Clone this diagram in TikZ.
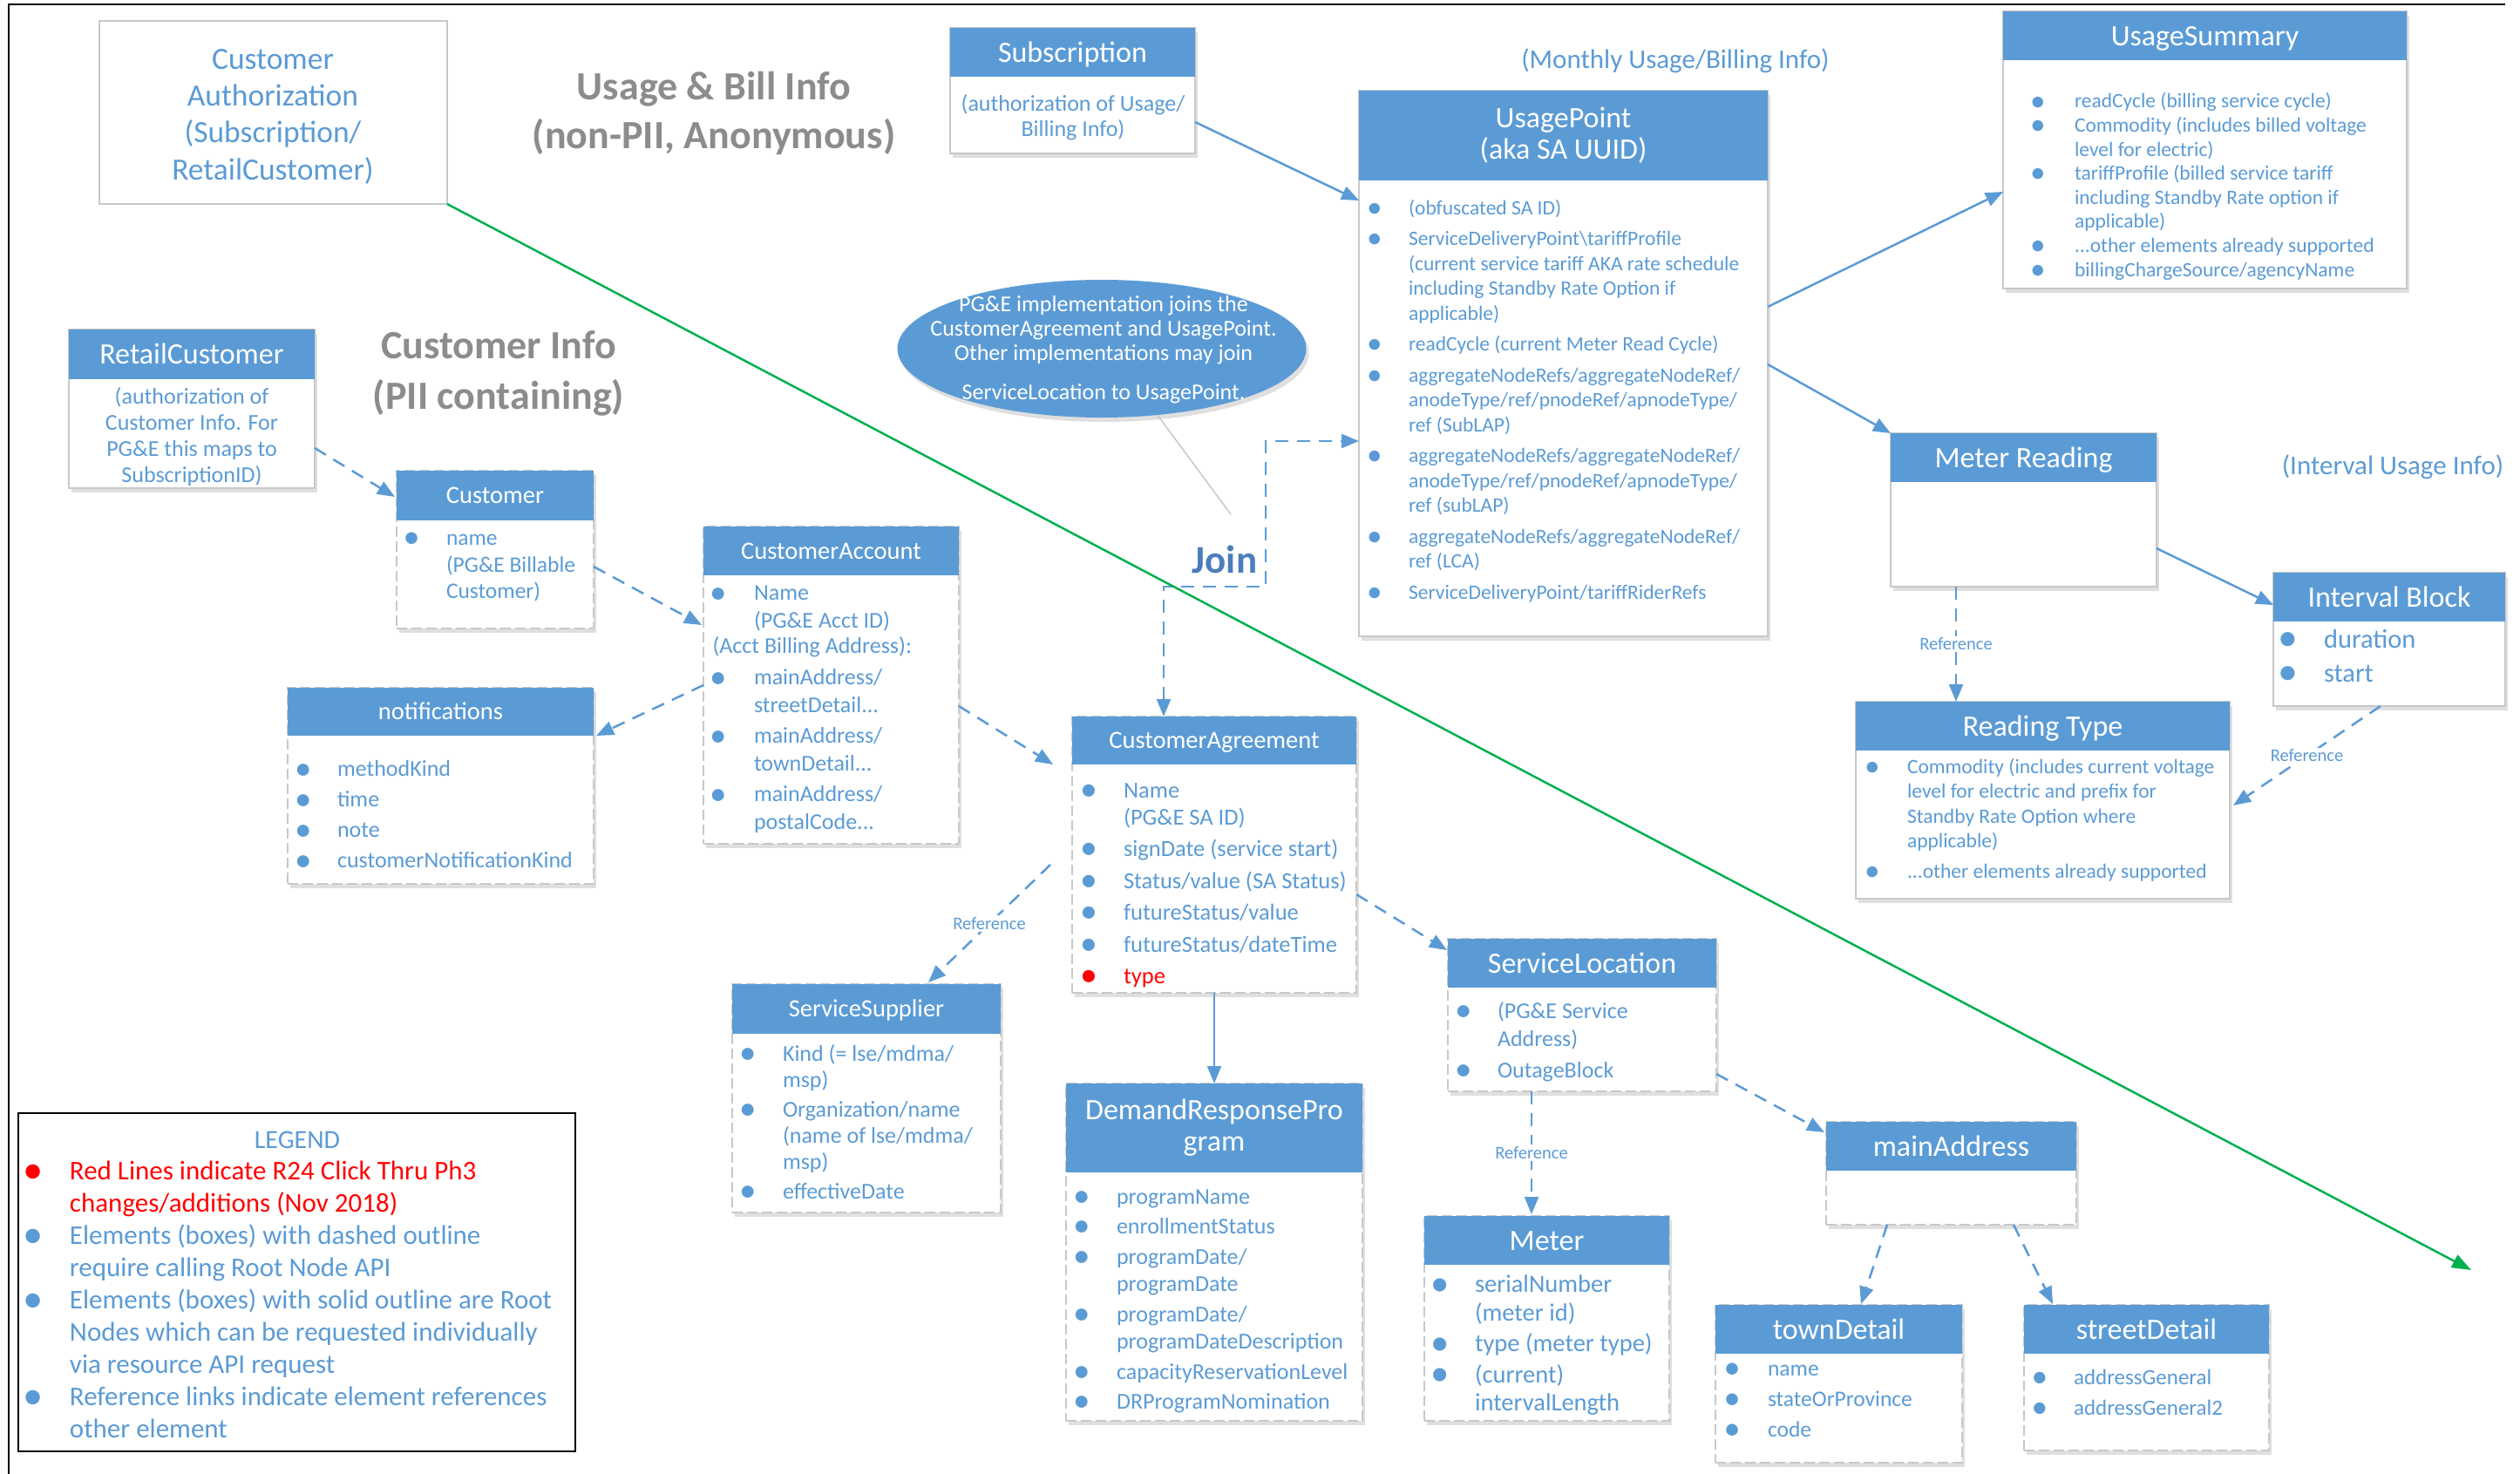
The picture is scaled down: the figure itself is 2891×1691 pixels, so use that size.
\documentclass[tikz,border=0pt]{standalone}
\usepackage{fontspec}
\setmainfont{Carlito}
\usepackage{array}
\usetikzlibrary{arrows.meta,shapes.geometric,shadows,calc}
\definecolor{hb}{HTML}{5B9BD5}
\definecolor{tb}{HTML}{5B9BD5}
\definecolor{ttl}{HTML}{8C8C8C}
\definecolor{jn}{HTML}{4A7EBB}
\definecolor{gr}{HTML}{00B050}
\definecolor{bd}{HTML}{C8C8C8}
\newcommand{\bl}{\hspace*{-0.12em}\raisebox{-0.13em}{\scalebox{1.5}{\textbullet}}}
\newcommand{\fs}[2]{\fontsize{#1}{#2}\selectfont}
\begin{document}
\begin{tikzpicture}[x=1pt,y=-1pt,
  box/.style={draw=bd, line width=1.5pt, fill=white, inner sep=0pt, outer sep=0pt, anchor=north west,
    drop shadow={shadow xshift=3pt, shadow yshift=-5pt, opacity=0.25}},
  dbox/.style={box, dash pattern=on 12pt off 5pt},
  hdr/.style={fill=hb, inner sep=0pt, outer sep=0pt, anchor=north west},
  ttlA/.style={text=white, font=\fs{34}{40}, text height=22.4pt, text depth=0pt},
  ttlB/.style={text=white, font=\fs{28.5}{34}, text height=18.8pt, text depth=0pt},
  txt/.style={text=tb, inner sep=0pt, outer sep=0pt},
  conn/.style={draw=hb, line width=2.5pt, -{Triangle[length=20pt,width=16pt]}},
  dconn/.style={conn, dash pattern=on 15pt off 10pt},
  reflbl/.style={text=tb, font=\fs{20.5}{24}, fill=white, inner sep=2pt},
]
\useasboundingbox (0,0) rectangle (2891,1691);
\fill[white] (0,0) rectangle (2891,1691);
% frame
\draw[line width=2.5pt] (2874,5) -- (10,5) -- (10,1691);

% Customer Authorization
\node[draw=bd, line width=2pt, fill=white, minimum width=399pt, minimum height=210pt, anchor=north west, inner sep=0pt, outer sep=0pt] (cauth) at (114,24) {};
\node[txt, anchor=base, font=\fs{35.5}{42.3}] (cauth-t) at (313,79.4) {\begin{tabular}[t]{@{}c@{}}Customer\\Authorization\\(Subscription/\\RetailCustomer)\end{tabular}};

% section titles
\node[anchor=base, text=ttl, font=\fs{46}{55}\bfseries, inner sep=0pt] (ubi) at (819,115) {\begin{tabular}[t]{@{}c@{}}Usage \& Bill Info\\(non-PII, Anonymous)\end{tabular}};
\node[anchor=base, text=ttl, font=\fs{46}{58}\bfseries, inner sep=0pt] (cinfo) at (572,411) {\begin{tabular}[t]{@{}c@{}}Customer Info\\(PII containing)\end{tabular}};
\node[txt, anchor=base, font=\fs{31}{36}] (monthly) at (1922,79) {(Monthly Usage/Billing Info)};
\node[txt, anchor=base, font=\fs{31}{36}] (intinfo) at (2745,544) {(Interval Usage Info)};

% RetailCustomer
\node[box, minimum width=282pt, minimum height=182pt] (rc) at (79,378) {};
\node[hdr, ttlA, minimum width=282pt, minimum height=57pt] (rc-h) at (rc.north west) {RetailCustomer};
\node[txt, anchor=base, font=\fs{26}{30}] (rc-b) at (220,463) {\begin{tabular}[t]{@{}c@{}}(authorization of\\Customer Info. For\\PG\&E this maps to\\SubscriptionID)\end{tabular}};

% Customer
\node[dbox, minimum width=226pt, minimum height=181pt] (cu) at (455,540) {};
\node[hdr, ttlB, minimum width=226pt, minimum height=57pt] (cu-h) at (cu.north west) {Customer};
\node[txt, anchor=base west, font=\fs{25.5}{30.5}] (cu-b) at (465.6,625.6) {\begin{tabular}[t]{@{}p{46.4pt}@{}l@{}}\bl & name\\ & (PG\&E Billable\\ & Customer)\end{tabular}};

% CustomerAccount
\node[dbox, minimum width=293pt, minimum height=364pt] (ca) at (807,604) {};
\node[hdr, ttlB, minimum width=293pt, minimum height=56pt] (ca-h) at (ca.north west) {CustomerAccount};
\node[txt, anchor=base west, font=\fs{26}{32}] (ca-b) at (817.5,688.8) {\begin{tabular}[t]{@{}p{47.5pt}@{}l@{}}\bl & Name\\ & (PG\&E Acct ID)\\[-3pt]
\multicolumn{2}{@{}l@{}}{(Acct Billing Address):}\\[4pt]
\bl & mainAddress/\\ & streetDetail...\\[3pt]
\bl & mainAddress/\\ & townDetail...\\[3pt]
\bl & mainAddress/\\ & postalCode...\end{tabular}};

% notifications
\node[dbox, minimum width=351pt, minimum height=225pt] (nt) at (330,789) {};
\node[hdr, ttlB, minimum width=351pt, minimum height=55pt] (nt-h) at (nt.north west) {notifications};
\node[txt, anchor=base west, font=\fs{26}{35}] (nt-b) at (341.5,890.8) {\begin{tabular}[t]{@{}p{45.5pt}@{}l@{}}\bl & methodKind\\ \bl & time\\ \bl & note\\ \bl & customerNotificationKind\end{tabular}};

% Subscription
\node[box, minimum width=281pt, minimum height=144pt] (sub) at (1090,32) {};
\node[hdr, ttlA, minimum width=281pt, minimum height=56pt] (sub-h) at (sub.north west) {Subscription};
\node[txt, anchor=base, font=\fs{26}{29}] (sub-b) at (1231,128) {\begin{tabular}[t]{@{}c@{}}(authorization of Usage/\\Billing Info)\end{tabular}};

% UsagePoint
\node[box, minimum width=469pt, minimum height=626pt] (up) at (1559,104) {};
\node[hdr, minimum width=469pt, minimum height=103pt, text=white, font=\fs{34}{36}, align=center] (up-h) at (up.north west) {UsagePoint\\(aka SA UUID)};
\node[txt, anchor=base west, font=\fs{23.5}{28.5}] (up-b) at (1571,246) {\begin{tabular}[t]{@{}p{45pt}@{}l@{}}\bl & (obfuscated SA ID)\\[7pt]
\bl & ServiceDeliveryPoint\textbackslash tariffProfile\\
 & (current service tariff AKA rate schedule\\
 & including Standby Rate Option if\\
 & applicable)\\[7pt]
\bl & readCycle (current Meter Read Cycle)\\[7pt]
\bl & aggregateNodeRefs/aggregateNodeRef/\\ & anodeType/ref/pnodeRef/apnodeType/\\ & ref (SubLAP)\\[7pt]
\bl & aggregateNodeRefs/aggregateNodeRef/\\ & anodeType/ref/pnodeRef/apnodeType/\\ & ref (subLAP)\\[7pt]
\bl & aggregateNodeRefs/aggregateNodeRef/\\ & ref (LCA)\\[7pt]
\bl & ServiceDeliveryPoint/tariffRiderRefs\end{tabular}};

% UsageSummary
\node[box, minimum width=463pt, minimum height=318pt] (us) at (2298,13) {};
\node[hdr, ttlA, minimum width=463pt, minimum height=56pt] (us-h) at (us.north west) {UsageSummary};
\node[txt, anchor=base west, font=\fs{23.5}{27.6}] (us-b) at (2332,124) {\begin{tabular}[t]{@{}p{48pt}@{}l@{}}\bl & readCycle (billing service cycle)\\
\bl & Commodity (includes billed voltage\\ & level for electric)\\
\bl & tariffProfile (billed service tariff\\ & including Standby Rate option if\\ & applicable)\\
\bl & ...other elements already supported\\
\bl & billingChargeSource/agencyName\end{tabular}};

% Callout ellipse
\node[ellipse, fill=hb, minimum width=469pt, minimum height=158pt, inner sep=0pt,
  drop shadow={shadow xshift=3pt, shadow yshift=-5pt, opacity=0.25}] (callout) at (1264,400) {};
\node[anchor=base, text=white, font=\fs{26}{28}, inner sep=0pt] (callout-t) at (1266,357) {\begin{tabular}[t]{@{}c@{}}PG\&E implementation joins the\\CustomerAgreement and UsagePoint.\\Other implementations may join\\[17pt]ServiceLocation to UsagePoint.\end{tabular}};
\coordinate (callout-tip) at (1412,590);
\draw[draw=bd, line width=1.5pt] (callout.-50) -- (callout-tip);
\node[anchor=base, text=jn, font=\fs{45}{50}\bfseries, inner sep=0pt] (join) at (1405,657) {Join};

% CustomerAgreement
\node[dbox, minimum width=326pt, minimum height=317pt] (cag) at (1230,822) {};
\node[hdr, ttlB, minimum width=326pt, minimum height=55pt] (cag-h) at (cag.north west) {CustomerAgreement};
\node[txt, anchor=base west, font=\fs{26.5}{31}] (cag-b) at (1242.4,915) {\begin{tabular}[t]{@{}p{46.6pt}@{}l@{}}\bl & Name\\ & (PG\&E SA ID)\\[5.5pt]
\bl & signDate (service start)\\[5.5pt]
\bl & Status/value (SA Status)\\[5.5pt]
\bl & futureStatus/value\\[5.5pt]
\bl & futureStatus/dateTime\\[5.5pt]
\textcolor{red}{\bl} & \textcolor{red}{type}\end{tabular}};

% ServiceSupplier
\node[dbox, minimum width=308pt, minimum height=262pt] (ss) at (840,1129) {};
\node[hdr, ttlB, minimum width=308pt, minimum height=57pt] (ss-h) at (ss.north west) {ServiceSupplier};
\node[txt, anchor=base west, font=\fs{26}{30}] (ss-b) at (851.5,1217) {\begin{tabular}[t]{@{}p{46.5pt}@{}l@{}}\bl & Kind (= lse/mdma/\\ & msp)\\[4pt]
\bl & Organization/name\\ & (name of lse/mdma/\\ & msp)\\[4pt]
\bl & effectiveDate\end{tabular}};

% DemandResponseProgram
\node[dbox, minimum width=340pt, minimum height=387pt] (dr) at (1223,1243) {};
\node[hdr, minimum width=340pt, minimum height=102pt, text=white, font=\fs{34}{36}, align=center] (dr-h) at (dr.north west) {DemandResponsePro\\gram};
\node[txt, anchor=base west, font=\fs{26}{31.5}] (dr-b) at (1234.5,1381) {\begin{tabular}[t]{@{}p{46.5pt}@{}l@{}}\bl & programName\\[3pt]
\bl & enrollmentStatus\\[3pt]
\bl & programDate/\\ & programDate\\[3pt]
\bl & programDate/\\ & programDateDescription\\[3pt]
\bl & capacityReservationLevel\\[3pt]
\bl & DRProgramNomination\end{tabular}};

% ServiceLocation
\node[dbox, minimum width=308pt, minimum height=175pt] (sl) at (1661,1077) {};
\node[hdr, ttlA, minimum width=308pt, minimum height=56pt] (sl-h) at (sl.north west) {ServiceLocation};
\node[txt, anchor=base west, font=\fs{26}{32}] (sl-b) at (1672.5,1168) {\begin{tabular}[t]{@{}p{45.5pt}@{}l@{}}\bl & (PG\&E Service\\ & Address)\\[4pt]
\bl & OutageBlock\end{tabular}};

% Meter
\node[dbox, minimum width=281pt, minimum height=235pt] (me) at (1634,1395) {};
\node[hdr, ttlA, minimum width=281pt, minimum height=56pt] (me-h) at (me.north west) {Meter};
\node[txt, anchor=base west, font=\fs{28.5}{32.5}] (me-b) at (1645,1482.5) {\begin{tabular}[t]{@{}p{47pt}@{}l@{}}\bl & serialNumber\\ & (meter id)\\[3pt]
\bl & type (meter type)\\[3pt]
\bl & (current)\\ & intervalLength\end{tabular}};

% mainAddress
\node[dbox, minimum width=287pt, minimum height=118pt] (ma) at (2095,1287) {};
\node[hdr, ttlA, minimum width=287pt, minimum height=56pt] (ma-h) at (ma.north west) {mainAddress};

% townDetail
\node[dbox, minimum width=283pt, minimum height=181pt] (td) at (1968,1497) {};
\node[hdr, ttlA, minimum width=283pt, minimum height=56pt] (td-h) at (td.north west) {townDetail};
\node[txt, anchor=base west, font=\fs{25.5}{35}] (td-b) at (1980.6,1578.6) {\begin{tabular}[t]{@{}p{47.4pt}@{}l@{}}\bl & name\\ \bl & stateOrProvince\\ \bl & code\end{tabular}};

% streetDetail
\node[dbox, minimum width=281pt, minimum height=167pt] (sd) at (2322,1497) {};
\node[hdr, ttlA, minimum width=281pt, minimum height=56pt] (sd-h) at (sd.north west) {streetDetail};
\node[txt, anchor=base west, font=\fs{25}{35}] (sd-b) at (2333.7,1588.5) {\begin{tabular}[t]{@{}p{45.3pt}@{}l@{}}\bl & addressGeneral\\ \bl & addressGeneral2\end{tabular}};

% Meter Reading
\node[box, minimum width=305pt, minimum height=176pt] (mr) at (2169,497) {};
\node[hdr, ttlA, minimum width=305pt, minimum height=56pt] (mr-h) at (mr.north west) {Meter Reading};

% Interval Block
\node[box, minimum width=266pt, minimum height=153pt] (ib) at (2608,657) {};
\node[hdr, ttlA, minimum width=266pt, minimum height=56pt] (ib-h) at (ib.north west) {Interval Block};
\node[txt, anchor=base west, font=\fs{30.5}{39}] (ib-b) at (2617.4,743) {\begin{tabular}[t]{@{}p{48.6pt}@{}l@{}}\bl & duration\\ \bl & start\end{tabular}};

% Reading Type
\node[box, minimum width=429pt, minimum height=226pt] (rt) at (2129,805) {};
\node[hdr, ttlA, minimum width=429pt, minimum height=56pt] (rt-h) at (rt.north west) {Reading Type};
\node[txt, anchor=base west, font=\fs{23.5}{28.5}] (rt-b) at (2142,887) {\begin{tabular}[t]{@{}p{46pt}@{}l@{}}\bl & Commodity (includes current voltage\\ & level for electric and prefix for\\ & Standby Rate Option where\\ & applicable)\\[6pt]
\bl & ...other elements already supported\end{tabular}};

% Legend
\node[draw=black, line width=2.5pt, fill=white, minimum width=639pt, minimum height=388pt, anchor=north west, inner sep=0pt, outer sep=0pt] (lg) at (21,1277) {};
\node[txt, anchor=base, font=\fs{30}{36}] (lg-t) at (341,1317) {LEGEND};
\node[txt, anchor=base west, font=\fs{31}{37}] (lg-b) at (30.25,1353.3) {\begin{tabular}[t]{@{}p{49.75pt}@{}l@{}}\textcolor{red}{\bl} & \textcolor{red}{Red Lines indicate R24 Click Thru Ph3}\\
 & \textcolor{red}{changes/additions (Nov 2018)}\\
\bl & Elements (boxes) with dashed outline\\ & require calling Root Node API\\
\bl & Elements (boxes) with solid outline are Root\\ & Nodes which can be requested individually\\ & via resource API request\\
\bl & Reference links indicate element references\\ & other element\end{tabular}};

% connectors
\draw[dconn] ($(rc.north east)+(0,136)$) -- ($(cu.north west)+(-2,30)$);
\draw[dconn] ($(cu.north east)+(0,110)$) -- ($(ca.north west)+(-2,113)$);
\draw[dconn] ($(ca.north west)+(0,182)$) -- ($(nt.north east)+(3,55)$);
\draw[dconn] ($(ca.north east)+(0,206)$) -- ($(cag.north west)+(-22,55)$);
\coordinate (j1) at (1452,673);
\draw[dconn, {Triangle[length=20pt,width=16pt]}-{Triangle[length=20pt,width=16pt]}] ($(cag.north west)+(105,0)$) |- (j1) |- ($(up.north west)+(0,402)$);
\draw[conn] ($(sub.north east)+(0,108)$) -- ($(up.north west)+(0,126)$);
\draw[conn] ($(up.north east)+(0,248)$) -- ($(us.north west)+(0,207)$);
\draw[conn] ($(up.north east)+(0,314)$) -- (mr.north west);
\draw[conn] ($(mr.north east)+(0,132)$) -- ($(ib.north west)+(0,37)$);
\draw[dconn] ($(mr.south west)+(75,0)$) -- node[reflbl] (ref1) {Reference} ($(rt.north west)+(115,0)$);
\draw[dconn] ($(ib.south west)+(123,0)$) -- node[reflbl] (ref2) {Reference} ($(rt.north east)+(4,119)$);
\draw[dconn] ($(cag.north west)+(-25,170)$) -- node[reflbl] (ref3) {Reference} ($(ss.north west)+(225,-2)$);
\draw[conn] (cag.south) -- (dr.north);
\draw[dconn] ($(cag.north east)+(0,204)$) -- ($(sl.north west)+(-1,13)$);
\draw[dconn] ($(sl.south west)+(96,0)$) -- node[reflbl] (ref4) {Reference} ($(me.north west)+(123,-2)$);
\draw[dconn] ($(sl.south east)+(0,-20)$) -- ($(ma.north west)+(-2,12)$);
\draw[dconn] ($(ma.south west)+(70,0)$) -- ($(td.north west)+(167,-1)$);
\draw[dconn] ($(ma.south west)+(215,0)$) -- ($(sd.north west)+(33,-1)$);
% green divider
\coordinate (gend) at (2835,1457);
\draw[draw=gr, line width=2.5pt, -{Triangle[length=22pt,width=16pt]}] (cauth.south east) -- (gend);
\end{tikzpicture}
\end{document}
